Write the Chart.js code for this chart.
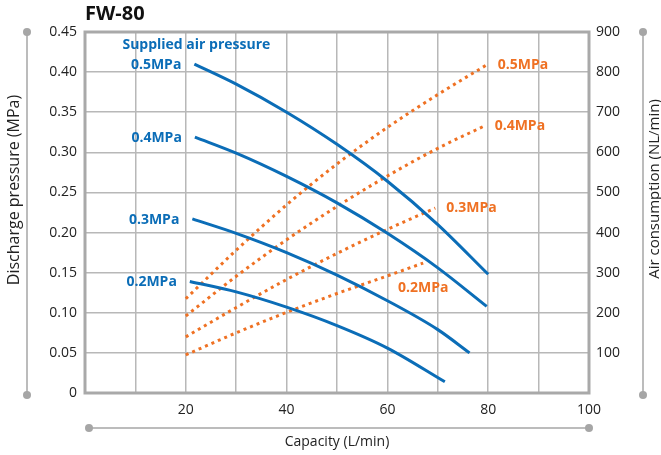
<!DOCTYPE html>
<html>
<head>
<meta charset="utf-8">
<title>FW-80</title>
<script src="https://cdn.jsdelivr.net/npm/chart.js@4.4.1/dist/chart.umd.min.js"></script>
<style>
  html, body { margin: 0; padding: 0; background: #fff; }
  #chart { display: block; }
</style>
</head>
<body>
<canvas id="chart" width="661" height="455"></canvas>
<script>
// Discharge pressure (MPa) vs capacity (L/min), one curve per supplied air pressure
const cap05 = [21.7, 30, 40, 50, 60, 70, 80];
const prs05 = [0.410, 0.385, 0.350, 0.310, 0.264, 0.210, 0.148];
const cap04 = [21.8, 30, 40, 50, 60, 70, 79.7];
const prs04 = [0.319, 0.299, 0.270, 0.237, 0.199, 0.156, 0.108];
const cap03 = [21.3, 30, 40, 50, 60, 70, 76.3];
const prs03 = [0.217, 0.199, 0.175, 0.147, 0.115, 0.079, 0.050];
const cap02 = [20.8, 30, 40, 50, 60, 71.4];
const prs02 = [0.139, 0.126, 0.107, 0.084, 0.056, 0.014];

// Air consumption (NL/min) vs capacity (L/min)
const airCap05 = [20, 30, 40, 50, 60, 70, 79.7];
const air05 = [235, 356, 469, 571, 662, 744, 818];
const airCap04 = [20, 30, 40, 50, 60, 70, 79.1];
const air04 = [192, 291, 382, 465, 541, 610, 665];
const airCap03 = [20, 30, 40, 50, 60, 69.5];
const air03 = [140, 213, 283, 348, 408, 461];
const airCap02 = [20, 30, 40, 50, 60, 67.1];
const air02 = [95, 150, 201, 248, 292, 324];

const pressureLabels = ['0.5MPa', '0.4MPa', '0.3MPa', '0.2MPa'];
const xTicks = [20, 40, 60, 80, 100];

const BLUE = '#0b6db7';
const ORANGE = '#ef7123';
const GRID = '#b8b8b8';
const FRAME = '#a9a9a9';
const FONT = "'Open Sans', 'Noto Sans', sans-serif";

const pts = (xs, ys) => xs.map((x, i) => ({ x: x, y: ys[i] }));

const blueSets = [[cap05, prs05], [cap04, prs04], [cap03, prs03], [cap02, prs02]];
const orangeSets = [[airCap05, air05], [airCap04, air04], [airCap03, air03], [airCap02, air02]];

const datasets = [];
blueSets.forEach((s, i) => datasets.push({
    label: 'Discharge ' + pressureLabels[i],
    data: pts(s[0], s[1]),
    yAxisID: 'y',
    borderColor: BLUE,
    borderWidth: 3,
    pointRadius: 0,
    cubicInterpolationMode: 'monotone',
    fill: false
}));
orangeSets.forEach((s, i) => datasets.push({
    label: 'Air ' + pressureLabels[i],
    data: pts(s[0], s[1]),
    yAxisID: 'y1',
    borderColor: ORANGE,
    borderWidth: 3,
    borderDash: [3, 4],
    borderCapStyle: 'butt',
    pointRadius: 0,
    cubicInterpolationMode: 'monotone',
    fill: false
}));

function dotLine(ctx, x1, y1, x2, y2) {
    ctx.save();
    ctx.strokeStyle = '#a6a6a6';
    ctx.fillStyle = '#a6a6a6';
    ctx.lineWidth = 1.5;
    ctx.beginPath();
    ctx.moveTo(x1, y1);
    ctx.lineTo(x2, y2);
    ctx.stroke();
    [[x1, y1], [x2, y2]].forEach(p => {
        ctx.beginPath();
        ctx.arc(p[0], p[1], 4, 0, Math.PI * 2);
        ctx.fill();
    });
    ctx.restore();
}

function vText(ctx, text, x, y) {
    ctx.save();
    ctx.translate(x, y);
    ctx.rotate(-Math.PI / 2);
    ctx.textAlign = 'center';
    ctx.textBaseline = 'middle';
    ctx.fillText(text, 0, 0);
    ctx.restore();
}

const decor = {
    id: 'decor',
    beforeDatasetsDraw(chart) {
        const { ctx, chartArea: a } = chart;
        ctx.save();
        ctx.strokeStyle = FRAME;
        ctx.lineWidth = 3;
        ctx.strokeRect(a.left, a.top, a.right - a.left, a.bottom - a.top);
        ctx.restore();
    },
    afterDraw(chart) {
        const { ctx, chartArea: a, scales } = chart;
        const sx = scales.x, sy = scales.y, sy1 = scales.y1;

        // title
        ctx.save();
        ctx.fillStyle = '#111';
        ctx.font = "bold 20px " + FONT;
        ctx.textBaseline = 'middle';
        ctx.textAlign = 'left';
        ctx.fillText('FW-80', a.left, 14);

        // axis titles with their bracket lines
        ctx.fillStyle = '#222';
        dotLine(ctx, 27, a.top, 27, a.bottom + 2);
        ctx.font = "16px " + FONT;
        vText(ctx, 'Discharge pressure (MPa)', 14, 190);
        dotLine(ctx, 643, a.top, 643, a.bottom + 2);
        ctx.font = "15px " + FONT;
        vText(ctx, 'Air consumption (NL/min)', 655, 189);
        dotLine(ctx, 89, 428, a.right, 428);
        ctx.font = "14px " + FONT;
        ctx.textAlign = 'center';
        ctx.textBaseline = 'middle';
        ctx.fillText('Capacity (L/min)', (a.left + a.right) / 2, 442);

        // blue curve labels at the start of each curve
        ctx.font = "bold 14px " + FONT;
        ctx.fillStyle = BLUE;
        ctx.textAlign = 'right';
        blueSets.forEach((s, i) => {
            const px = sx.getPixelForValue(s[0][0]);
            const py = sy.getPixelForValue(s[1][0]);
            ctx.fillText(pressureLabels[i], px - 13, py + 1);
        });
        ctx.textAlign = 'center';
        ctx.fillText('Supplied air pressure',
            sx.getPixelForValue(cap05[0]) + 2, sy.getPixelForValue(prs05[0]) - 19);

        // orange curve labels at the end of each curve
        ctx.fillStyle = ORANGE;
        orangeSets.forEach((s, i) => {
            const n = s[0].length - 1;
            const px = sx.getPixelForValue(s[0][n]);
            const py = sy1.getPixelForValue(s[1][n]);
            if (i === 3) {
                ctx.textAlign = 'center';
                ctx.fillText(pressureLabels[i], px, py + 25);
            } else {
                ctx.textAlign = 'left';
                ctx.fillText(pressureLabels[i], px + 11, py);
            }
        });
        ctx.restore();
    }
};

const tickFont = { family: FONT, size: 14 };

new Chart(document.getElementById('chart'), {
    type: 'line',
    data: { datasets: datasets },
    options: {
        responsive: false,
        animation: false,
        layout: { padding: { top: 32, left: 0, right: 0, bottom: 0 } },
        plugins: {
            legend: { display: false },
            tooltip: { enabled: false },
            title: { display: false }
        },
        scales: {
            x: {
                type: 'linear',
                min: 0,
                max: 100,
                ticks: {
                    stepSize: 10,
                    autoSkip: false,
                    maxRotation: 0,
                    padding: 9,
                    color: '#222',
                    font: tickFont,
                    callback: v => xTicks.includes(v) ? String(v) : ''
                },
                grid: { color: GRID, lineWidth: 1.5, drawTicks: false },
                border: { display: false },
                afterFit: s => { s.height = 62; }
            },
            y: {
                position: 'left',
                min: 0,
                max: 0.45,
                ticks: {
                    stepSize: 0.05,
                    padding: 8,
                    color: '#222',
                    font: tickFont,
                    callback: v => v === 0 ? '0' : v.toFixed(2)
                },
                grid: { color: GRID, lineWidth: 1.5, drawTicks: false },
                border: { display: false },
                afterFit: s => { s.width = 85; }
            },
            y1: {
                position: 'right',
                min: 0,
                max: 900,
                ticks: {
                    stepSize: 100,
                    padding: 7,
                    color: '#222',
                    font: tickFont,
                    callback: v => v === 0 ? '' : String(v)
                },
                grid: { display: false, drawTicks: false },
                border: { display: false },
                afterFit: s => { s.width = 72; }
            }
        }
    },
    plugins: [decor]
});
</script>
</body>
</html>
